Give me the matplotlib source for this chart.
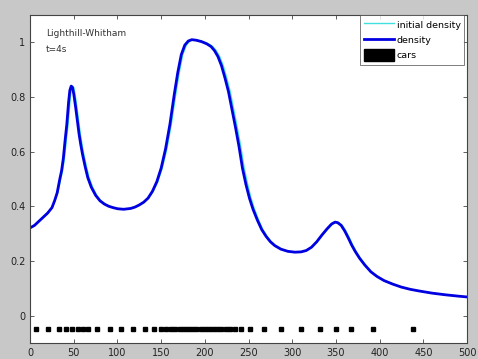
import matplotlib
matplotlib.use("Agg")
import matplotlib.pyplot as plt
from matplotlib.patches import Patch
from matplotlib.lines import Line2D

# density profile (x in m, density)
pos = [0, 5, 10, 15, 20, 25, 28, 31, 34, 36, 38, 40, 42, 44, 45.5, 47, 48.5,
       50, 52, 54, 56, 58, 60, 63, 66, 70, 75, 80, 85, 90, 95, 100, 107, 115,
       120, 125, 130, 135, 140, 145, 150, 155, 160, 165, 169, 173, 177, 181,
       185, 190, 196, 202, 207, 211, 215, 219, 223, 227, 231, 235, 239, 243,
       247, 251, 255, 260, 265, 270, 275, 280, 287, 295, 303, 310, 316, 322,
       328, 334, 340, 345, 349, 352, 356, 360, 364, 368, 372, 377, 383, 390,
       397, 405, 415, 425, 435, 445, 460, 475, 490, 500]
density = [0.321, 0.330, 0.345, 0.360, 0.375, 0.395, 0.420, 0.450, 0.500,
           0.530, 0.575, 0.640, 0.700, 0.780, 0.825, 0.840, 0.835, 0.810,
           0.765, 0.715, 0.665, 0.625, 0.590, 0.545, 0.505, 0.470, 0.440,
           0.420, 0.408, 0.400, 0.395, 0.391, 0.389, 0.392, 0.397, 0.405,
           0.415, 0.430, 0.455, 0.490, 0.540, 0.610, 0.700, 0.810, 0.890,
           0.955, 0.990, 1.005, 1.010, 1.008, 1.003, 0.995, 0.985, 0.970,
           0.948, 0.915, 0.870, 0.820, 0.755, 0.690, 0.620, 0.540, 0.480,
           0.430, 0.390, 0.350, 0.315, 0.290, 0.270, 0.256, 0.243, 0.235,
           0.232, 0.233, 0.238, 0.250, 0.270, 0.295, 0.318, 0.335, 0.342,
           0.340, 0.330, 0.310, 0.285, 0.258, 0.235, 0.210, 0.185, 0.160,
           0.143, 0.128, 0.115, 0.104, 0.096, 0.090, 0.082, 0.076, 0.071,
           0.068]

# initial density: same shape, peaks sit a touch further right
init_pos = [0, 5, 10, 15, 20, 25, 28.5, 31.8, 35, 37.2, 39.3, 41.4, 43.5,
            45.5, 47, 48.5, 50, 51.5, 53.5, 55.5, 57.5, 59.5, 61.5, 64.5,
            67.5, 71.5, 76.3, 81, 86, 90.8, 95.6, 100.5, 107.3, 115.3, 120.4,
            125.5, 130.6, 135.8, 141, 146.2, 151.3, 156.5, 161.6, 166.7,
            170.7, 174.7, 178.8, 182.8, 187, 192, 198, 204, 209, 213, 217,
            221, 225, 229, 233, 237, 241, 245, 249, 252.8, 256.7, 261.5, 266.3,
            271.2, 276, 281, 287.8, 295.6, 303.4, 310.3, 316.4, 322.5, 328.7,
            334.8, 341, 346, 350.2, 353.3, 357.3, 361.3, 365.3, 369.2, 373,
            378, 383.8, 390.7, 397.5, 405.4, 415.2, 425.2, 435, 445, 460, 475,
            490, 500]
init_density = density

# car positions along the road
cars = [7, 21, 33, 41, 48, 55, 61, 66, 77, 91, 104.5, 118, 131, 142, 150,
        156, 161, 166, 171, 176, 180.5, 185.5, 190, 195, 199.6, 204.5, 209,
        214, 218.7, 223.7, 228.3, 234, 241, 252, 268, 287, 310, 332, 350,
        367, 392, 438]

fig = plt.figure(figsize=(4.78, 3.59), dpi=100, facecolor="#c8c8c8")
ax = fig.add_axes([0.063, 0.045, 0.914, 0.913])

ax.plot(init_pos, init_density, color="#40e0e0", lw=1)
ax.plot(pos, density, color="#0000e0", lw=2)
ax.plot(cars, [-0.05] * len(cars), "s", color="black", ms=2.6)

ax.set_xlim(0, 500)
ax.set_ylim(-0.1, 1.1)
ax.set_xticks(range(0, 501, 50))
ax.set_yticks([0, 0.2, 0.4, 0.6, 0.8, 1])
ax.set_yticklabels(["0", "0.2", "0.4", "0.6", "0.8", "1"])
ax.tick_params(direction="in", top=True, right=True, labelsize=7,
               length=3, width=0.6, color="#444444", labelcolor="#222222")
for s in ax.spines.values():
    s.set_linewidth(0.8)
    s.set_color("#444444")

ax.text(0.036, 0.945, "Lighthill-Whitham", transform=ax.transAxes,
        fontsize=6.5, color="#333333", va="center")
ax.text(0.036, 0.894, "t=4s", transform=ax.transAxes,
        fontsize=6.5, color="#333333", va="center")

handles = [Line2D([], [], color="#40e0e0", lw=1),
           Line2D([], [], color="#0000e0", lw=2),
           Patch(facecolor="black", edgecolor="black")]
leg = ax.legend(handles, ["initial density", "density", "cars"],
                loc="upper right", bbox_to_anchor=(0.994, 1.0),
                fontsize=6.8, fancybox=False, borderaxespad=0,
                handlelength=3.2, handleheight=1.5, handletextpad=0.3,
                labelspacing=0.4, borderpad=0.4)
leg.get_frame().set_edgecolor("#444444")
leg.get_frame().set_linewidth(0.6)

fig.savefig("out.png", dpi=100, facecolor=fig.get_facecolor())
